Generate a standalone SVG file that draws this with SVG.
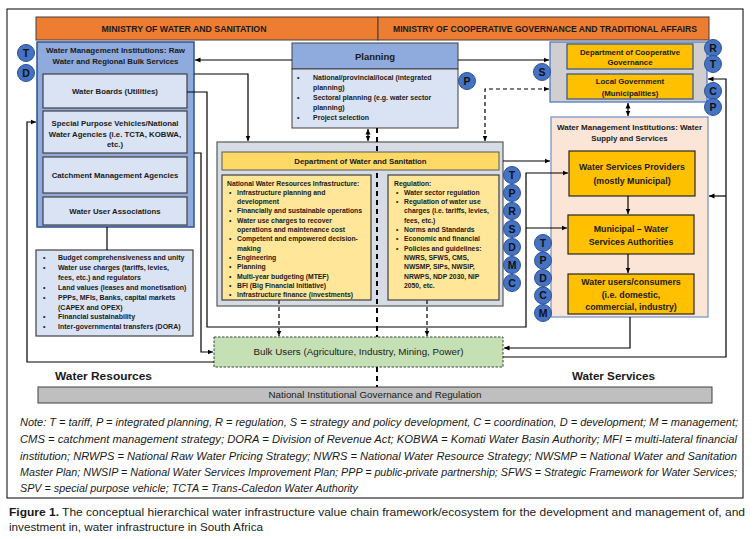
<svg xmlns="http://www.w3.org/2000/svg" width="756" height="539" viewBox="0 0 756 539">
<defs>
<marker id="ah" viewBox="0 0 6 6" refX="6" refY="3" markerWidth="5.5" markerHeight="5.5" markerUnits="userSpaceOnUse" orient="auto-start-reverse"><path d="M0,0.3 L6,3 L0,5.7 z" fill="#000"/></marker>
<style>
text{font-family:"Liberation Sans",Arial,sans-serif;fill:#1a1a1a}
.b{font-weight:bold}
.min{font-size:8.2px;font-weight:bold;text-anchor:middle}
.bx{font-size:7.8px;font-weight:bold;text-anchor:middle}
.ob{font-size:8.8px;font-weight:bold;text-anchor:middle}
.sm{font-size:6.8px;font-weight:bold}
.fin{font-size:7px;font-weight:bold}
.pl{font-size:7px;font-weight:bold}
.lt{font-size:10.5px;font-weight:bold;text-anchor:middle;fill:#111}
.cir{fill:#4472C4;stroke:#2F528F;stroke-width:1}
.con{fill:none;stroke:#000;stroke-width:1.2}
.dash{fill:none;stroke:#000;stroke-width:1.2;stroke-dasharray:4 3}
.note{font-size:10.5px;font-style:italic}
.cap{font-size:10.5px}
.lb{fill:#DAE3F3;stroke:#404040;stroke-width:1.2}
.yl{fill:#FFC000;stroke:#2F528F;stroke-width:1.2}
.og{fill:#FFC000;stroke:#262626;stroke-width:1.2}
</style>
</defs>
<rect x="7" y="9" width="736" height="489" fill="#fff" stroke="#000" stroke-width="1"/>

<g id="ministry-ws">
<rect x="36" y="17" width="342" height="23" fill="#ED7D31" stroke="#404040" stroke-width="1"/>
<text class="min" x="184" y="31.5" textLength="165" lengthAdjust="spacingAndGlyphs">MINISTRY OF WATER AND SANITATION</text>
</g>
<g id="ministry-cogta">
<rect x="378" y="17" width="331" height="23" fill="#ED7D31" stroke="#404040" stroke-width="1"/>
<text class="min" x="545" y="31.5" textLength="304" lengthAdjust="spacingAndGlyphs">MINISTRY OF COOPERATIVE GOVERNANCE AND TRADITIONAL AFFAIRS</text>
</g>

<g id="wmi-raw">
<rect x="37" y="42" width="157" height="185" fill="#8FAADC" stroke="#2F528F" stroke-width="1.5"/>
<text class="bx" x="115.5" y="53" font-size="8" textLength="139" lengthAdjust="spacingAndGlyphs">Water Management Institutions: Raw</text>
<text class="bx" x="115.5" y="64" font-size="8">Water and Regional Bulk Services</text>
</g>
<g id="water-boards">
<rect class="lb" x="43" y="74" width="144" height="34"/>
<text class="bx" x="115" y="94">Water Boards (Utilities)</text>
</g>
<g id="spv">
<rect class="lb" x="43" y="111" width="144" height="42"/>
<text class="bx" x="115" y="126">Special Purpose Vehicles/National</text>
<text class="bx" x="115" y="137">Water Agencies (i.e. TCTA, KOBWA,</text>
<text class="bx" x="115" y="147">etc.)</text>
</g>
<g id="cma">
<rect class="lb" x="43" y="157" width="144" height="36"/>
<text class="bx" x="115" y="178">Catchment Management Agencies</text>
</g>
<g id="wua">
<rect class="lb" x="43" y="197" width="144" height="28"/>
<text class="bx" x="115" y="214">Water User Associations</text>
</g>
<g id="finance">
<rect class="lb" x="36" y="250" width="157" height="86"/>
<g class="fin">
<text x="43" y="260">•</text><text x="58" y="260">Budget comprehensiveness and unity</text>
<text x="43" y="270">•</text><text x="58" y="270">Water use charges (tariffs, levies,</text>
<text x="58" y="280">fees, etc.) and regulators</text>
<text x="43" y="290">•</text><text x="58" y="290">Land values (leases and monetisation)</text>
<text x="43" y="300">•</text><text x="58" y="300">PPPs, MFIs, Banks, capital markets</text>
<text x="58" y="310">(CAPEX and OPEX)</text>
<text x="43" y="319">•</text><text x="58" y="319">Financial sustainability</text>
<text x="43" y="329">•</text><text x="58" y="329">Inter-governmental transfers (DORA)</text>
</g>
</g>

<g id="planning">
<rect x="292" y="43" width="166" height="26" fill="#8FAADC" stroke="#404040" stroke-width="1"/>
<rect x="292" y="69" width="166" height="59" fill="#DAE3F3" stroke="#404040" stroke-width="1"/>
<text class="b" x="375" y="60" font-size="9.5" text-anchor="middle">Planning</text>
<g class="pl">
<text x="297" y="80">•</text><text x="313" y="80">National/provincial/local (integrated</text>
<text x="313" y="90">planning)</text>
<text x="297" y="99.5">•</text><text x="313" y="99.5">Sectoral planning (e.g. water sector</text>
<text x="313" y="109.5">planning)</text>
<text x="297" y="119.5">•</text><text x="313" y="119.5">Project selection</text>
</g>
</g>

<g id="cogta">
<rect x="550" y="42" width="157" height="60" fill="#D0CECE" stroke="#4472C4" stroke-width="1.2"/>
</g>
<g id="dept-cog">
<rect class="yl" x="567" y="44" width="126" height="25"/>
<text class="bx" x="630" y="55">Department of Cooperative</text>
<text class="bx" x="630" y="65">Governance</text>
</g>
<g id="local-gov">
<rect class="yl" x="567" y="74" width="126" height="25"/>
<text class="bx" x="630" y="84">Local Government</text>
<text class="bx" x="630" y="95.5">(Municipalities)</text>
</g>

<g id="wmi-services">
<rect x="551" y="117" width="157" height="200" fill="#FBE5D6" stroke="#6F8FC9" stroke-width="1.2"/>
<text class="bx" x="629.5" y="130" textLength="145" lengthAdjust="spacingAndGlyphs">Water Management Institutions: Water</text>
<text class="bx" x="629.5" y="141">Supply and Services</text>
</g>
<g id="wsp">
<rect class="og" x="569" y="151" width="126" height="45"/>
<text class="ob" x="632" y="170">Water Services Providers</text>
<text class="ob" x="632" y="184">(mostly Municipal)</text>
</g>
<g id="wsa">
<rect class="og" x="568" y="215" width="126" height="39"/>
<text class="ob" x="631" y="232">Municipal – Water</text>
<text class="ob" x="631" y="245">Services Authorities</text>
</g>
<g id="users">
<rect class="og" x="568" y="274" width="126" height="40"/>
<text class="ob" x="631" y="285">Water users/consumers</text>
<text class="ob" x="631" y="298">(i.e. domestic,</text>
<text class="ob" x="631" y="310">commercial, industry)</text>
</g>

<g id="dws">
<rect x="217" y="142" width="286" height="164" fill="#D6DCE5" stroke="#595959" stroke-width="1.2"/>
</g>

<g id="bulk">
<rect x="214" y="337" width="289" height="30" fill="#C5E0B4" stroke="#404040" stroke-width="1" stroke-dasharray="2.5 1.5"/>
<text x="358.5" y="355" font-size="8.5" text-anchor="middle" textLength="210" lengthAdjust="spacingAndGlyphs">Bulk Users (Agriculture, Industry, Mining, Power)</text>
</g>

<g id="governance">
<rect x="38" y="387" width="674" height="16" fill="#BFBFBF" stroke="#404040" stroke-width="1"/>
<text x="375" y="398" font-size="8.7" text-anchor="middle" textLength="213" lengthAdjust="spacingAndGlyphs">National Institutional Governance and Regulation</text>
</g>

<g id="connectors">
<path class="con" d="M292,60 H195" marker-end="url(#ah)"/>
<path class="con" d="M458,60 H549" marker-end="url(#ah)"/>
<path class="con" d="M194,74 H248 V141" marker-end="url(#ah)"/>
<path class="con" d="M187,92 H207 V327 H526 V173 H568" marker-end="url(#ah)"/>
<path class="con" d="M526,228 H567" marker-end="url(#ah)"/>
<path class="con" d="M194,153 H201 V352 H213" marker-end="url(#ah)"/>
<path class="con" d="M214,362 H27 V122 H36" marker-end="url(#ah)"/>
<path class="con" d="M107,227 V250"/>
<path class="con" d="M368,129 V141" marker-start="url(#ah)" marker-end="url(#ah)"/>
<path class="dash" d="M485,141 V89 H549" marker-start="url(#ah)" marker-end="url(#ah)"/>
<path class="con" d="M628,103 V116" marker-start="url(#ah)" marker-end="url(#ah)"/>
<path class="con" d="M503,161 H550" marker-end="url(#ah)"/>
<path class="con" d="M628,196 V214" marker-end="url(#ah)"/>
<path class="con" d="M628,254 V273" marker-end="url(#ah)"/>
<path class="con" d="M630,317 V348 H504" marker-end="url(#ah)"/>
<path class="con" d="M503,357 H726 V79 H708" marker-end="url(#ah)"/>
<path class="con" d="M726,196 H709" marker-end="url(#ah)"/>
<path class="dash" d="M279,300 V336" marker-end="url(#ah)"/>
<path class="dash" d="M427,300 V336" marker-end="url(#ah)"/>
<path fill="none" stroke="#000" stroke-width="2" stroke-dasharray="5 4" d="M377,128 V337 M377,367 V387"/>
</g>

<g id="dws-header">
<rect x="222" y="152" width="277" height="18" fill="#FFD966" stroke="#595959" stroke-width="1"/>
<text class="bx" x="360.5" y="164" font-size="8">Department of Water and Sanitation</text>
</g>
<g id="dws-infra">
<rect x="222" y="175" width="149" height="125" fill="#FFE699" stroke="#404040" stroke-width="1.2"/>
<g class="sm">
<text x="227" y="185.5">National Water Resources Infrastructure:</text>
<text x="229" y="194.7">•</text><text x="237" y="194.7">Infrastructure planning and</text>
<text x="237" y="204.1">development</text>
<text x="229" y="213.4">•</text><text x="237" y="213.4">Financially and sustainable operations</text>
<text x="229" y="222.7">•</text><text x="237" y="222.7">Water use charges to recover</text>
<text x="237" y="232.1">operations and maintenance cost</text>
<text x="229" y="241.4">•</text><text x="237" y="241.4">Competent and empowered decision-</text>
<text x="237" y="250.7">making</text>
<text x="229" y="260.4">•</text><text x="237" y="260.4">Engineering</text>
<text x="229" y="269.4">•</text><text x="237" y="269.4">Planning</text>
<text x="229" y="279.1">•</text><text x="237" y="279.1">Multi-year budgeting (MTEF)</text>
<text x="229" y="288.1">•</text><text x="237" y="288.1">BFI (Big Financial Initiative)</text>
<text x="229" y="297.4">•</text><text x="237" y="297.4">Infrastructure finance (investments)</text>
</g>
</g>
<g id="dws-regulation">
<rect x="388" y="175" width="111" height="125" fill="#FFE699" stroke="#404040" stroke-width="1.2"/>
<g class="sm">
<text x="394" y="185.5">Regulation:</text>
<text x="396" y="194.7">•</text><text x="404" y="194.7">Water sector regulation</text>
<text x="396" y="204.1">•</text><text x="404" y="204.1">Regulation of water use</text>
<text x="404" y="213.4">charges (i.e. tariffs, levies,</text>
<text x="404" y="222.7">fees, etc.)</text>
<text x="396" y="232.1">•</text><text x="404" y="232.1">Norms and Standards</text>
<text x="396" y="241.4">•</text><text x="404" y="241.4">Economic and financial</text>
<text x="396" y="250.7">•</text><text x="404" y="250.7">Policies and guidelines:</text>
<text x="404" y="260.4">NWRS, SFWS, CMS,</text>
<text x="404" y="269.4">NWSMP, SIPs, NWSIP,</text>
<text x="404" y="279.1">NRWPS, NDP 2030, NIP</text>
<text x="404" y="288.1">2050, etc.</text>
</g>
</g>

<g id="roles">
<circle class="cir" cx="26" cy="53" r="8.5"/><text class="lt" x="26" y="56.8">T</text>
<circle class="cir" cx="26" cy="73" r="8.5"/><text class="lt" x="26" y="76.8">D</text>
<circle class="cir" cx="467" cy="81" r="8.5"/><text class="lt" x="467" y="84.8">P</text>
<circle class="cir" cx="542" cy="72" r="8.5"/><text class="lt" x="542" y="75.8">S</text>
<circle class="cir" cx="713" cy="48" r="8.5"/><text class="lt" x="713" y="51.8">R</text>
<circle class="cir" cx="713" cy="64" r="8.5"/><text class="lt" x="713" y="67.8">T</text>
<circle class="cir" cx="713" cy="91" r="8.5"/><text class="lt" x="713" y="94.8">C</text>
<circle class="cir" cx="713" cy="107" r="8.5"/><text class="lt" x="713" y="110.8">P</text>
<circle class="cir" cx="512" cy="175" r="8.5"/><text class="lt" x="512" y="178.8">T</text>
<circle class="cir" cx="512" cy="193" r="8.5"/><text class="lt" x="512" y="196.8">P</text>
<circle class="cir" cx="512" cy="211" r="8.5"/><text class="lt" x="512" y="214.8">R</text>
<circle class="cir" cx="512" cy="229" r="8.5"/><text class="lt" x="512" y="232.8">S</text>
<circle class="cir" cx="512" cy="247" r="8.5"/><text class="lt" x="512" y="250.8">D</text>
<circle class="cir" cx="512" cy="265" r="8.5"/><text class="lt" x="512" y="268.8">M</text>
<circle class="cir" cx="512" cy="283" r="8.5"/><text class="lt" x="512" y="286.8">C</text>
<circle class="cir" cx="543" cy="243" r="8.5"/><text class="lt" x="543" y="246.8">T</text>
<circle class="cir" cx="543" cy="260.5" r="8.5"/><text class="lt" x="543" y="264.3">P</text>
<circle class="cir" cx="543" cy="278" r="8.5"/><text class="lt" x="543" y="281.8">D</text>
<circle class="cir" cx="543" cy="295.5" r="8.5"/><text class="lt" x="543" y="299.3">C</text>
<circle class="cir" cx="543" cy="313" r="8.5"/><text class="lt" x="543" y="316.8">M</text>
</g>

<text class="b" x="55" y="380" font-size="11.5" textLength="97" lengthAdjust="spacingAndGlyphs">Water Resources</text>
<text class="b" x="572" y="380" font-size="11.5" textLength="83" lengthAdjust="spacingAndGlyphs">Water Services</text>

<g id="note">
<text class="note" x="20" y="426" textLength="718" lengthAdjust="spacingAndGlyphs">Note: T = tariff, P = integrated planning, R = regulation, S = strategy and policy development, C = coordination, D = development; M = management;</text>
<text class="note" x="20" y="443" textLength="717" lengthAdjust="spacingAndGlyphs">CMS = catchment management strategy; DORA = Division of Revenue Act; KOBWA = Komati Water Basin Authority; MFI = multi-lateral financial</text>
<text class="note" x="20" y="459.5" textLength="717" lengthAdjust="spacingAndGlyphs">institution; NRWPS = National Raw Water Pricing Strategy; NWRS = National Water Resource Strategy; NWSMP = National Water and Sanitation</text>
<text class="note" x="20" y="476" textLength="717" lengthAdjust="spacingAndGlyphs">Master Plan; NWSIP = National Water Services Improvement Plan; PPP = public-private partnership; SFWS = Strategic Framework for Water Services;</text>
<text class="note" x="20" y="492" textLength="338" lengthAdjust="spacingAndGlyphs">SPV = special purpose vehicle; TCTA = Trans-Caledon Water Authority</text>
</g>
<g id="caption">
<text class="cap" x="9" y="516" textLength="736" lengthAdjust="spacingAndGlyphs"><tspan font-weight="bold">Figure 1.</tspan> The conceptual hierarchical water infrastructure value chain framework/ecosystem for the development and management of, and</text>
<text class="cap" x="9" y="531" textLength="254" lengthAdjust="spacingAndGlyphs">investment in, water infrastructure in South Africa</text>
</g>
</svg>
